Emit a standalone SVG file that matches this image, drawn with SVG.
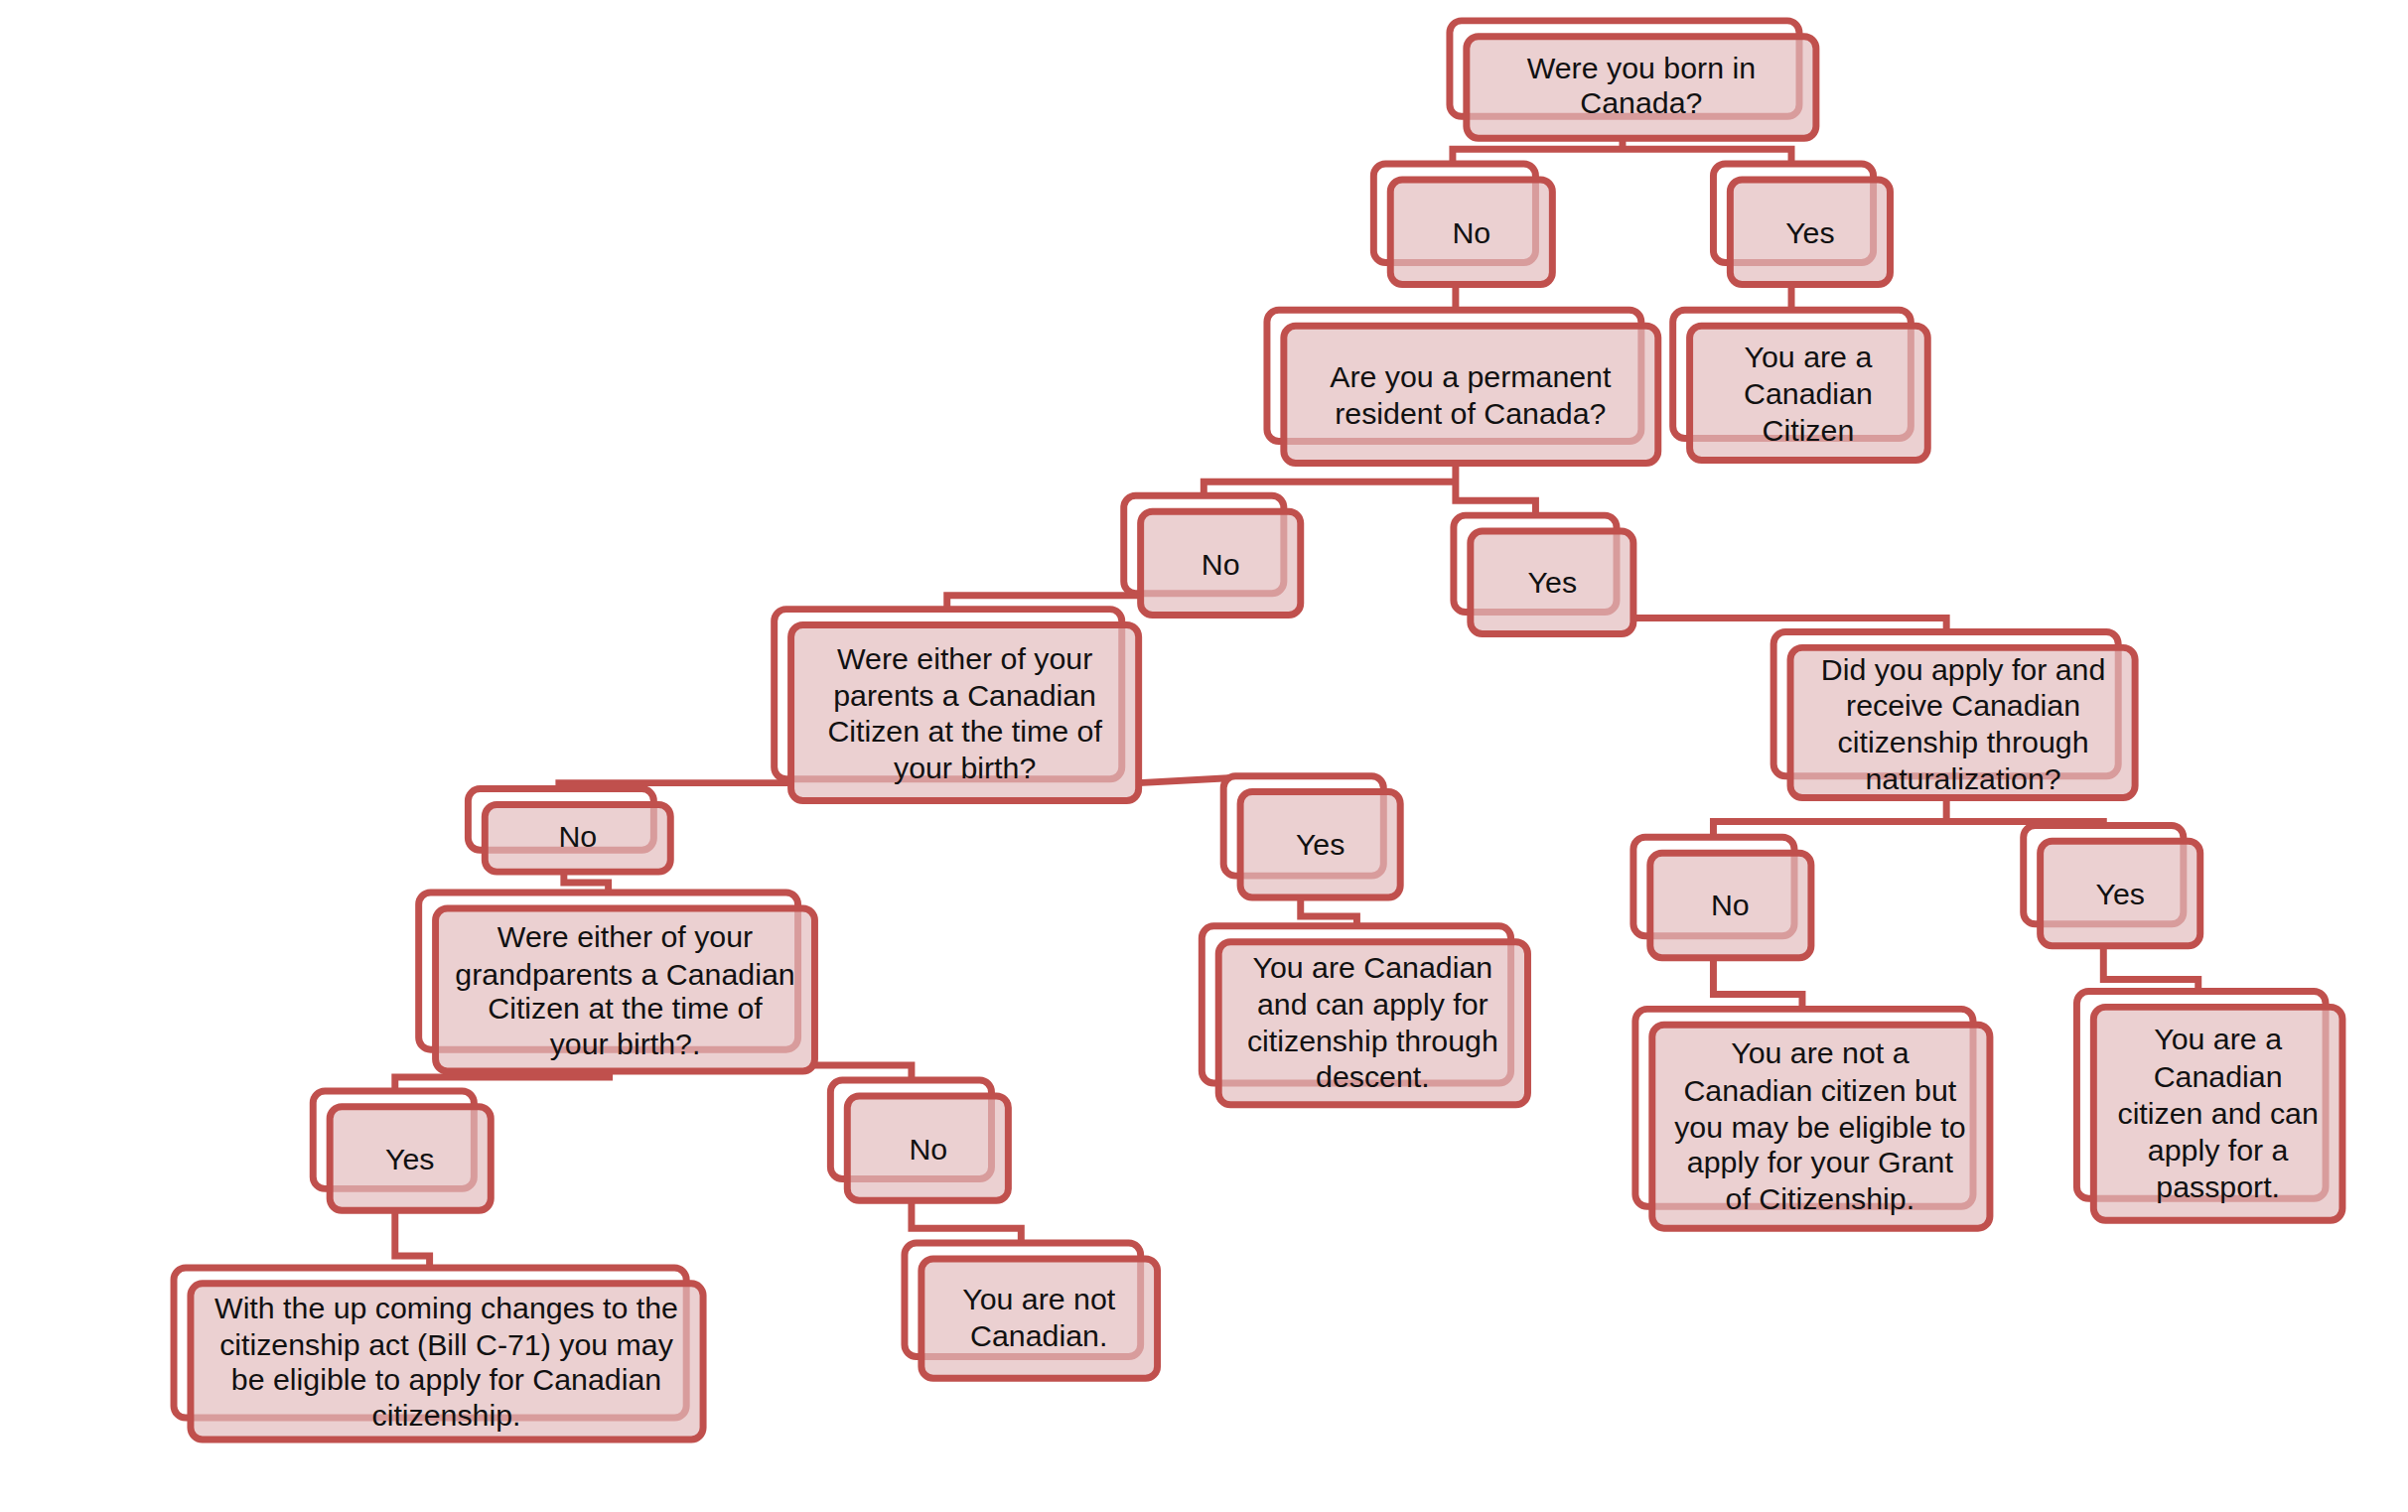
<svg xmlns="http://www.w3.org/2000/svg" width="2425" height="1523" viewBox="0 0 2425 1523">
<style>
.bk{fill:#ffffff;stroke:#c0504d;stroke-width:7}
.fr{fill:#e2bcbd;fill-opacity:0.7;stroke:#c0504d;stroke-width:7}
.cn{fill:none;stroke:#c0504d;stroke-width:7;stroke-linejoin:miter}
text{font-family:"Liberation Sans",Arial,sans-serif;font-size:30.5px;fill:#111;text-anchor:middle}
</style>
<rect width="2425" height="1523" fill="#ffffff"/>
<g transform="scale(0.9945)">
<g id="connectors">
<path class="cn" d="M1643 140V151M1471 166V151H1814V166"/>
<path class="cn" d="M1474 288V314"/>
<path class="cn" d="M1814 288V314"/>
<path class="cn" d="M1474 469V488H1219V502M1474 488V507H1555V522"/>
<path class="cn" d="M1155 603H959V617"/>
<path class="cn" d="M1654 626H1971V640"/>
<path class="cn" d="M801 793H566V799"/>
<path class="cn" d="M1153 793L1244 788"/>
<path class="cn" d="M571 883V894H616V904"/>
<path class="cn" d="M1317 909V928H1374V938"/>
<path class="cn" d="M1971 808V832H1735V848M1971 832H2130V836"/>
<path class="cn" d="M1735 970V1007H1825V1022"/>
<path class="cn" d="M2130 958V992H2226V1004"/>
<path class="cn" d="M617 1085V1091H400V1105"/>
<path class="cn" d="M825 1079H923V1094"/>
<path class="cn" d="M400 1226V1272H435V1284"/>
<path class="cn" d="M923 1216V1244H1034V1259"/>
</g>
<g id="n1"><rect class="bk" x="1468" y="21" width="354" height="97" rx="12"/><rect class="fr" x="1485" y="37" width="354" height="103" rx="12"/><text x="1662" y="79">Were you born in</text><text x="1662" y="115">Canada?</text></g>
<g id="n2"><rect class="bk" x="1391" y="166" width="164" height="100" rx="12"/><rect class="fr" x="1408" y="182" width="164" height="106" rx="12"/><text x="1490" y="246">No</text></g>
<g id="n3"><rect class="bk" x="1735" y="166" width="162" height="100" rx="12"/><rect class="fr" x="1752" y="182" width="162" height="106" rx="12"/><text x="1833" y="246">Yes</text></g>
<g id="n4"><rect class="bk" x="1283" y="314" width="379" height="133" rx="12"/><rect class="fr" x="1300" y="330" width="379" height="139" rx="12"/><text x="1489" y="392">Are you a permanent</text><text x="1489" y="429">resident of Canada?</text></g>
<g id="n5"><rect class="bk" x="1694" y="314" width="241" height="130" rx="12"/><rect class="fr" x="1711" y="330" width="241" height="136" rx="12"/><text x="1831" y="372">You are a</text><text x="1831" y="409">Canadian</text><text x="1831" y="446">Citizen</text></g>
<g id="n6"><rect class="bk" x="1138" y="502" width="162" height="99" rx="12"/><rect class="fr" x="1155" y="518" width="162" height="105" rx="12"/><text x="1236" y="582">No</text></g>
<g id="n7"><rect class="bk" x="1472" y="522" width="165" height="98" rx="12"/><rect class="fr" x="1489" y="538" width="165" height="104" rx="12"/><text x="1572" y="600">Yes</text></g>
<g id="n8"><rect class="bk" x="784" y="617" width="352" height="172" rx="12"/><rect class="fr" x="801" y="633" width="352" height="178" rx="12"/><text x="977" y="678">Were either of your</text><text x="977" y="715">parents a Canadian</text><text x="977" y="751">Citizen at the time of</text><text x="977" y="788">your birth?</text></g>
<g id="n9"><rect class="bk" x="1796" y="640" width="349" height="146" rx="12"/><rect class="fr" x="1813" y="656" width="349" height="152" rx="12"/><text x="1988" y="689">Did you apply for and</text><text x="1988" y="725">receive Canadian</text><text x="1988" y="762">citizenship through</text><text x="1988" y="799">naturalization?</text></g>
<g id="n10"><rect class="bk" x="474" y="799" width="188" height="62" rx="12"/><rect class="fr" x="491" y="815" width="188" height="68" rx="12"/><text x="585" y="858">No</text></g>
<g id="n11"><rect class="bk" x="1239" y="786" width="162" height="101" rx="12"/><rect class="fr" x="1256" y="802" width="162" height="107" rx="12"/><text x="1337" y="866">Yes</text></g>
<g id="n12"><rect class="bk" x="1654" y="848" width="163" height="100" rx="12"/><rect class="fr" x="1671" y="864" width="163" height="106" rx="12"/><text x="1752" y="927">No</text></g>
<g id="n13"><rect class="bk" x="2049" y="836" width="162" height="100" rx="12"/><rect class="fr" x="2066" y="852" width="162" height="106" rx="12"/><text x="2147" y="916">Yes</text></g>
<g id="n14"><rect class="bk" x="424" y="904" width="384" height="159" rx="12"/><rect class="fr" x="441" y="920" width="384" height="165" rx="12"/><text x="633" y="959">Were either of your</text><text x="633" y="997">grandparents a Canadian</text><text x="633" y="1032">Citizen at the time of</text><text x="633" y="1068">your birth?.</text></g>
<g id="n15"><rect class="bk" x="1217" y="938" width="313" height="159" rx="12"/><rect class="fr" x="1234" y="954" width="313" height="165" rx="12"/><text x="1390" y="990">You are Canadian</text><text x="1390" y="1028">and can apply for</text><text x="1390" y="1065">citizenship through</text><text x="1390" y="1101">descent.</text></g>
<g id="n16"><rect class="bk" x="1656" y="1022" width="342" height="200" rx="12"/><rect class="fr" x="1673" y="1038" width="342" height="206" rx="12"/><text x="1843" y="1077">You are not a</text><text x="1843" y="1115">Canadian citizen but</text><text x="1843" y="1152">you may be eligible to</text><text x="1843" y="1188">apply for your Grant</text><text x="1843" y="1225">of Citizenship.</text></g>
<g id="n17"><rect class="bk" x="2103" y="1004" width="252" height="210" rx="12"/><rect class="fr" x="2120" y="1020" width="252" height="216" rx="12"/><text x="2246" y="1063">You are a</text><text x="2246" y="1101">Canadian</text><text x="2246" y="1138">citizen and can</text><text x="2246" y="1175">apply for a</text><text x="2246" y="1213">passport.</text></g>
<g id="n18"><rect class="bk" x="317" y="1105" width="163" height="99" rx="12"/><rect class="fr" x="334" y="1121" width="163" height="105" rx="12"/><text x="415" y="1185">Yes</text></g>
<g id="n19"><rect class="bk" x="841" y="1094" width="163" height="100" rx="12"/><rect class="fr" x="858" y="1110" width="163" height="106" rx="12"/><text x="940" y="1174">No</text></g>
<g id="n20"><rect class="bk" x="176" y="1284" width="519" height="152" rx="12"/><rect class="fr" x="193" y="1300" width="519" height="158" rx="12"/><text x="452" y="1335">With the up coming changes to the</text><text x="452" y="1373">citizenship act (Bill C-71) you may</text><text x="452" y="1408">be eligible to apply for Canadian</text><text x="452" y="1444">citizenship.</text></g>
<g id="n21"><rect class="bk" x="916" y="1259" width="239" height="115" rx="12"/><rect class="fr" x="933" y="1275" width="239" height="121" rx="12"/><text x="1052" y="1326">You are not</text><text x="1052" y="1363">Canadian.</text></g>
</g>
</svg>
